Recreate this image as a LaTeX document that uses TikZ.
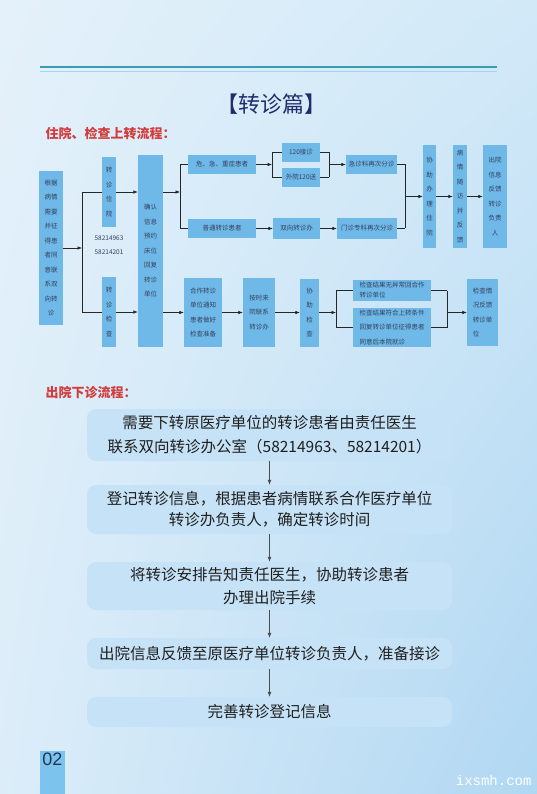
\documentclass[tikz,border=0pt]{standalone}
\usepackage{fontspec}
\setmainfont{Noto Sans CJK SC}
\newfontfamily\latinsans{Liberation Sans}
\newfontfamily\latinmono{Liberation Mono}
\usetikzlibrary{arrows.meta,positioning,shadings}

\definecolor{boxblue}{HTML}{6FB9E8}
\definecolor{boxtext}{HTML}{34405E}
\definecolor{softblue}{HTML}{C6E2F6}
\definecolor{headred}{HTML}{D23C3C}
\definecolor{titlenavy}{HTML}{1F2D6B}
\definecolor{ruleteal}{HTML}{3C9AB2}
\definecolor{rulelight}{HTML}{A3D6EA}
\definecolor{pageblue}{HTML}{7CC4EE}
\definecolor{pagenavy}{HTML}{1D3557}
\definecolor{bgul}{RGB}{228,241,250}
\definecolor{bgur}{RGB}{210,233,248}
\definecolor{bgll}{RGB}{220,237,249}
\definecolor{bglr}{RGB}{176,215,242}

\begin{document}
\begin{tikzpicture}[x=1pt, y=-1pt,
    bluebox/.style={fill=boxblue, text=boxtext, inner sep=0pt, align=center,
      font=\fontsize{6.5}{14.5}\selectfont},
    tinybox/.style={bluebox, font=\fontsize{6.5}{10}\selectfont},
    softbox/.style={fill=softblue, rounded corners=9pt, minimum width=365pt,
      inner sep=0pt, align=center, text=black!88},
    arr/.style={-{Latex[length=4.5pt,width=3.5pt]}, draw=black!85, line width=0.6pt},
    link/.style={draw=black!85, line width=0.6pt},
    downarr/.style={-{Latex[length=5pt,width=4pt]}, draw=black!70, line width=0.7pt},
    heading/.style={anchor=west, text=headred, font=\fontsize{13}{14}\selectfont\bfseries}]
  \useasboundingbox (0,0) rectangle (537,794);
  % Background
  \shade[upper left=bgul, upper right=bgur, lower left=bgll, lower right=bglr]
    (0,0) rectangle (537,794);

  % Header
  \draw[ruleteal, line width=1.4pt] (40,67) -- (497,67);
  \draw[rulelight, line width=1pt] (40,72) -- (497,72);
  \node[text=titlenavy, font=\fontsize{22}{24}\selectfont] (title) at (271,104) {【转诊篇】};
  \node[heading] (head1) at (42,134) {住院、检查上转流程：};

  % Upward flow: first columns
  \node[bluebox, minimum width=24pt, minimum height=154pt] (gj) at (51,248)
    {根据\\病情\\需要\\并征\\得患\\者同\\意联\\系双\\向转\\诊};
  \node[bluebox, minimum width=14pt, minimum height=70pt] (zy) at (109,192) {转\\诊\\住\\院};
  \node[text=boxtext, align=center, font=\fontsize{6.5}{14}\selectfont] (tel) at (109,245)
    {58214963\\58214201};
  \node[bluebox, minimum width=14pt, minimum height=70pt] (zj) at (109,312) {转\\诊\\检\\查};
  \node[bluebox, minimum width=25pt, minimum height=192pt] (qr) at (150.5,251)
    {确认\\信息\\预约\\床位\\回复\\转诊\\单位};

  % Upward flow: admission branch
  \node[bluebox, minimum width=68pt, minimum height=19pt] (wj) at (222,164.5) {危、急、重症患者};
  \node[bluebox, minimum width=68pt, minimum height=19pt] (pt) at (222,228.5) {普通转诊患者};
  \node[bluebox, minimum width=38pt, minimum height=19pt] (jz) at (301,152.5) {120接诊};
  \node[bluebox, minimum width=38pt, minimum height=19pt] (wy) at (301,177.5) {外院120送};
  \node[bluebox, minimum width=51pt, minimum height=19pt] (jzk) at (371.5,164.5) {急诊科再次分诊};
  \node[bluebox, minimum width=47pt, minimum height=20pt] (sx) at (296.5,228.5) {双向转诊办};
  \node[bluebox, minimum width=60pt, minimum height=20pt] (mz) at (367,228.5) {门诊专科再次分诊};
  \node[bluebox, minimum width=13pt, minimum height=103pt] (xb) at (429.5,196.5) {协\\助\\办\\理\\住\\院};
  \node[bluebox, minimum width=14pt, minimum height=103pt] (bq) at (460,196.5) {病\\情\\随\\访\\并\\反\\馈};
  \node[bluebox, minimum width=24pt, minimum height=103pt] (cy) at (495,196.5)
    {出院\\信息\\反馈\\转诊\\负责\\人};

  % Upward flow: examination branch
  \node[bluebox, minimum width=38pt, minimum height=69pt] (hz) at (203,312.5)
    {合作转诊\\单位通知\\患者做好\\检查准备};
  \node[bluebox, minimum width=32pt, minimum height=69pt] (as) at (259,312.5) {按时来\\院联系\\转诊办};
  \node[bluebox, minimum width=19pt, minimum height=68pt] (xj) at (309.5,312.5) {协\\助\\检\\查};
  \node[tinybox, align=left, minimum width=78pt, minimum height=21pt] (jg1) at (392,290.5)
    {检查结果无异常回合作\\转诊单位};
  \node[bluebox, align=left, minimum width=78pt, minimum height=39pt] (jg2) at (392,327.5)
    {检查结果符合上转条件\\回复转诊单位征得患者\\同意后本院就诊};
  \node[bluebox, align=left, minimum width=31pt, minimum height=67pt] (fk) at (482.5,312.5)
    {检查情\\况反馈\\转诊单\\位};

  % Connections
  \coordinate (s1) at (82,248);
  \coordinate (s1t) at (82,192);
  \coordinate (s1b) at (82,312);
  \draw[arr] (gj) -- (s1);
  \draw[link] (s1t) -- (s1b);
  \draw[link] (s1t) -- (zy);
  \draw[link] (s1b) -- (zj);
  \draw[arr] (zy) -- (qr.west |- zy);
  \draw[arr] (zj) -- (qr.west |- zj);

  \coordinate (s2) at (180,192);
  \coordinate (s2t) at (180,164.5);
  \coordinate (s2b) at (180,228.5);
  \draw[arr] (qr.east |- zy) -- (s2);
  \draw[link] (s2t) -- (s2b);
  \draw[link] (s2t) -- (wj);
  \draw[link] (s2b) -- (pt);
  \draw[arr] (qr.east |- hz) -- (hz);

  \coordinate (b1) at (272,164.5);
  \coordinate (b1t) at (272,152.5);
  \coordinate (b1b) at (272,177.5);
  \coordinate (b2) at (329,164.5);
  \coordinate (b2t) at (329,152.5);
  \coordinate (b2b) at (329,177.5);
  \draw[arr] (wj) -- (b1);
  \draw[link] (b1t) -- (b1b);
  \draw[link] (b1t) -- (jz);
  \draw[link] (b1b) -- (wy);
  \draw[link] (jz) -- (b2t);
  \draw[link] (wy) -- (b2b);
  \draw[link] (b2t) -- (b2b);
  \draw[arr] (b2) -- (jzk);

  \coordinate (m1) at (405,196.5);
  \coordinate (m1t) at (405,164.5);
  \coordinate (m1b) at (405,228.5);
  \draw[link] (jzk) -- (m1t);
  \draw[link] (mz) -- (m1b);
  \draw[link] (m1t) -- (m1b);
  \draw[arr] (m1) -- (xb);

  \coordinate (c1) at (336,312.5);
  \coordinate (c1t) at (336,290.5);
  \coordinate (c1b) at (336,327.5);
  \coordinate (c2) at (447,312.5);
  \coordinate (c2t) at (447,290.5);
  \coordinate (c2b) at (447,327.5);
  \draw[arr] (xj) -- (c1);
  \draw[link] (c1t) -- (c1b);
  \draw[link] (c1t) -- (jg1);
  \draw[link] (c1b) -- (jg2);
  \draw[link] (jg1) -- (c2t);
  \draw[link] (jg2) -- (c2b);
  \draw[link] (c2t) -- (c2b);
  \draw[arr] (c2) -- (fk);

  \foreach \a/\b in {pt/sx, sx/mz, xb/bq, bq/cy, hz/as, as/xj}
    \draw[arr] (\a) -- (\b);

  % Discharge flow
  \node[heading] (head2) at (42,392) {出院下诊流程：};
  \node[softbox, minimum height=52pt, font=\fontsize{15.5}{24}\selectfont] (r1) at (269.5,435)
    {需要下转原医疗单位的转诊患者由责任医生\\联系双向转诊办公室（58214963、58214201）};
  \node[softbox, minimum height=49pt, font=\fontsize{15.5}{21}\selectfont] (r2) at (269.5,509.5)
    {登记转诊信息，根据患者病情联系合作医疗单位\\转诊办负责人，确定转诊时间};
  \node[softbox, minimum height=48pt, font=\fontsize{15.5}{23}\selectfont] (r3) at (269.5,586)
    {将转诊安排告知责任医生，协助转诊患者\\办理出院手续};
  \node[softbox, minimum height=31pt, font=\fontsize{15.5}{18}\selectfont] (r4) at (269.5,653.5)
    {出院信息反馈至原医疗单位转诊负责人，准备接诊};
  \node[softbox, minimum height=30pt, font=\fontsize{15.5}{18}\selectfont] (r5) at (269.5,712)
    {完善转诊登记信息};
  \foreach \a/\b in {r1/r2, r2/r3, r3/r4, r4/r5}
    \draw[downarr] (\a) -- (\b);

  % Footer
  \node[fill=pageblue, minimum width=25pt, minimum height=43pt, inner sep=0pt] (pg) at (52.5,772.5) {};
  \node[text=pagenavy, font=\latinsans\fontsize{18}{18}\selectfont] (pgnum) at (52.5,759) {02};
  \node[text=white, anchor=east, font=\latinmono\fontsize{14}{14}\selectfont] (wm) at (535,780) {ixsmh.com};
\end{tikzpicture}
\end{document}
